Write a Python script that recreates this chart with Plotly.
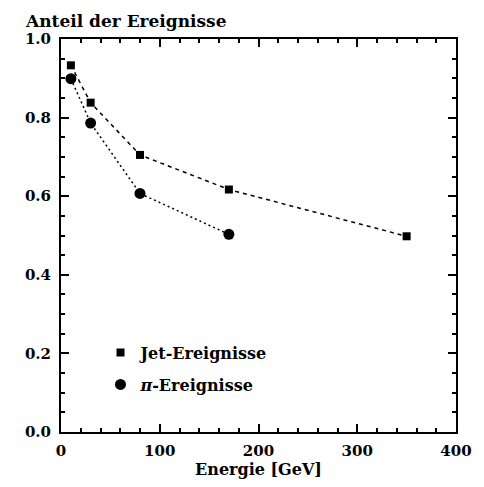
import plotly.graph_objects as go

jet_energy = [10, 30, 80, 170, 350]
jet_fraction = [0.933, 0.838, 0.705, 0.617, 0.498]
pi_energy = [10, 30, 80, 170]
pi_fraction = [0.899, 0.786, 0.607, 0.503]

jet_label = "Jet-Ereignisse"
pi_label = "<i>π</i>-Ereignisse"
x_title = "Energie [GeV]"
y_title = "Anteil der Ereignisse"

FONT = "DejaVu Serif"

fig = go.Figure()
fig.add_trace(go.Scatter(x=jet_energy, y=jet_fraction, mode="lines",
                         line=dict(color="black", width=1.5, dash="4px,4px"),
                         showlegend=False, hoverinfo="skip"))
fig.add_trace(go.Scatter(x=pi_energy, y=pi_fraction, mode="lines",
                         line=dict(color="black", width=1.5, dash="2px,3px"),
                         showlegend=False, hoverinfo="skip"))
fig.add_trace(go.Scatter(x=jet_energy, y=jet_fraction, mode="markers", name=jet_label,
                         legendgroup="jet",
                         marker=dict(symbol="square", size=8, color="black")))
fig.add_trace(go.Scatter(x=pi_energy, y=pi_fraction, mode="markers", name=pi_label,
                         legendgroup="pi",
                         marker=dict(symbol="circle", size=11, color="black")))

axis_common = dict(
    showline=True, linecolor="black", linewidth=2, mirror="allticks",
    ticks="inside", tickcolor="black", tickwidth=1.5, ticklen=8,
    showgrid=False, zeroline=False,
    tickfont=dict(family=FONT, size=15, color="black", weight="bold"),
)

fig.update_xaxes(range=[0, 400], dtick=100, tick0=0, ticklabelstandoff=4,
                 minor=dict(ticks="inside", dtick=20, ticklen=4, tickcolor="black", tickwidth=1.5, showgrid=False),
                 title=dict(text=x_title, font=dict(family=FONT, size=16, color="black", weight="bold"), standoff=3),
                 **axis_common)
fig.update_yaxes(range=[0, 1.0], dtick=0.2, tick0=0, tickformat=".1f", ticklabelstandoff=5,
                 minor=dict(ticks="inside", dtick=0.05, ticklen=4, tickcolor="black", tickwidth=1.5, showgrid=False),
                 **axis_common)

fig.add_annotation(text=y_title, xref="paper", yref="paper", x=-0.095, y=1.0,
                   xanchor="left", yanchor="bottom", yshift=6, showarrow=False,
                   font=dict(family=FONT, size=17, color="black", weight="bold"))

fig.update_layout(
    width=484, height=487,
    margin=dict(l=61, r=23, t=39, b=55),
    paper_bgcolor="white", plot_bgcolor="white",
    legend=dict(x=0.1, y=0.245, xanchor="left", yanchor="top",
                bgcolor="rgba(0,0,0,0)",
                font=dict(family=FONT, size=16, color="black", weight="bold"),
                itemwidth=30, tracegroupgap=8),
    showlegend=True,
)

fig.write_html("out.html", config={"displayModeBar": False},
               post_script="document.body.style.margin='0';document.body.style.overflow='hidden';")
